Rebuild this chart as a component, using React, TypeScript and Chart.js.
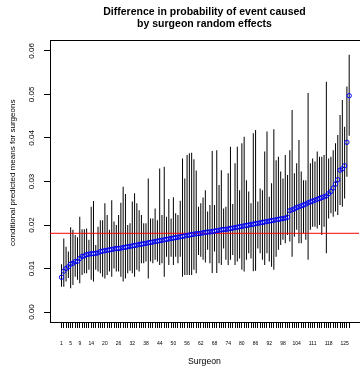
import React, { useEffect, useRef } from "react";
import { Chart, registerables } from "chart.js";

Chart.register(...registerables);

const FONT = "'Liberation Sans', Arial, Helvetica, sans-serif";

const titleLines = [
  "Difference in probability of event caused",
  "by surgeon random effects",
];
const xTitle = "Surgeon";
const yTitle = "conditional predicted means for surgeons";

// surgeon index (sorted by predicted mean)
const surgeons: number[] = [];
for (let s = 1; s <= 127; s++) surgeons.push(s);

const xTickLabels = [1, 5, 9, 14, 20, 26, 32, 38, 44, 50, 56, 62, 68, 74, 80, 86, 92, 98, 104, 111, 118, 125];
const yTickValues = [0, 0.01, 0.02, 0.03, 0.04, 0.05, 0.06];
const yTickLabels = ["0.00", "0.01", "0.02", "0.03", "0.04", "0.05", "0.06"];

const overallMean = 0.0181;

const means = [
  0.0080, 0.0094, 0.0100, 0.0104, 0.0110, 0.0112, 0.0116, 0.0117, 0.0123, 0.0128,
  0.0129, 0.0132, 0.0133, 0.0134, 0.0134, 0.0135, 0.0136, 0.0139, 0.0140, 0.0141,
  0.0142, 0.0143, 0.0144, 0.0145, 0.0146, 0.0146, 0.0147, 0.0148, 0.0149, 0.0150,
  0.0151, 0.0152, 0.0153, 0.0154, 0.0155, 0.0156, 0.0157, 0.0158, 0.0159, 0.0160,
  0.0161, 0.0162, 0.0163, 0.0164, 0.0165, 0.0166, 0.0167, 0.0168, 0.0169, 0.0170,
  0.0171, 0.0172, 0.0173, 0.0174, 0.0175, 0.0176, 0.0177, 0.0178, 0.0179, 0.0180,
  0.0180, 0.0181, 0.0182, 0.0183, 0.0184, 0.0184, 0.0185, 0.0186, 0.0187, 0.0188,
  0.0189, 0.0190, 0.0190, 0.0191, 0.0192, 0.0193, 0.0194, 0.0195, 0.0196, 0.0197,
  0.0198, 0.0199, 0.0200, 0.0201, 0.0202, 0.0203, 0.0204, 0.0205, 0.0206, 0.0207,
  0.0208, 0.0209, 0.0210, 0.0211, 0.0212, 0.0213, 0.0214, 0.0215, 0.0216, 0.0218,
  0.0233, 0.0235, 0.0237, 0.0240, 0.0242, 0.0244, 0.0246, 0.0248, 0.0251, 0.0253,
  0.0255, 0.0257, 0.0259, 0.0261, 0.0263, 0.0265, 0.0267,
  0.0272, 0.0277, 0.0285, 0.0294, 0.0304, 0.0326, 0.0329, 0.0336, 0.0390, 0.0497,
];

const lower = [
  0.0058, 0.0058, 0.0070, 0.0078, 0.0055, 0.0062, 0.0081, 0.0074, 0.0066, 0.0085,
  0.0089, 0.0089, 0.0097, 0.0074, 0.0070, 0.0097, 0.0093, 0.0089, 0.0081, 0.0077,
  0.0085, 0.0093, 0.0081, 0.0100, 0.0093, 0.0093, 0.0081, 0.0070, 0.0077, 0.0089,
  0.0095, 0.0089, 0.0081, 0.0097, 0.0093, 0.0112, 0.0112, 0.0116, 0.0077, 0.0116,
  0.0112, 0.0120, 0.0116, 0.0108, 0.0112, 0.0081, 0.0127, 0.0108, 0.0127, 0.0108,
  0.0127, 0.0112, 0.0127, 0.0081, 0.0085, 0.0085, 0.0085, 0.0085, 0.0097, 0.0089,
  0.0131, 0.0127, 0.0120, 0.0114, 0.0143, 0.0112, 0.0090, 0.0139, 0.0090, 0.0112,
  0.0108, 0.0146, 0.0120, 0.0108, 0.0120, 0.0131, 0.0108, 0.0116, 0.0123, 0.0097,
  0.0093, 0.0120, 0.0135, 0.0123, 0.0094, 0.0095, 0.0146, 0.0135, 0.0120, 0.0108,
  0.0135, 0.0116, 0.0104, 0.0097, 0.0127, 0.0143, 0.0154, 0.0166, 0.0158, 0.0177,
  0.0162, 0.0127, 0.0173, 0.0189, 0.0158, 0.0158, 0.0181, 0.0166, 0.0120, 0.0189,
  0.0196, 0.0196, 0.0192, 0.0200, 0.0177, 0.0196, 0.0135,
  0.0215, 0.0227, 0.0219, 0.0231, 0.0223, 0.0246, 0.0242, 0.0261, 0.0311, 0.0405,
];

const upper = [
  0.0110, 0.0169, 0.0150, 0.0139, 0.0195, 0.0189, 0.0177, 0.0172, 0.0219, 0.0190,
  0.0190, 0.0192, 0.0166, 0.0242, 0.0255, 0.0154, 0.0196, 0.0211, 0.0211, 0.0250,
  0.0223, 0.0189, 0.0257, 0.0208, 0.0200, 0.0223, 0.0251, 0.0288, 0.0271, 0.0200,
  0.0204, 0.0254, 0.0273, 0.0250, 0.0234, 0.0223, 0.0204, 0.0204, 0.0307, 0.0215,
  0.0215, 0.0238, 0.0211, 0.0330, 0.0223, 0.0334, 0.0219, 0.0260, 0.0215, 0.0264,
  0.0227, 0.0223, 0.0256, 0.0353, 0.0307, 0.0361, 0.0365, 0.0366, 0.0351, 0.0325,
  0.0242, 0.0250, 0.0263, 0.0280, 0.0231, 0.0246, 0.0370, 0.0246, 0.0372, 0.0292,
  0.0326, 0.0238, 0.0242, 0.0319, 0.0380, 0.0248, 0.0342, 0.0380, 0.0280, 0.0388,
  0.0403, 0.0303, 0.0277, 0.0250, 0.0411, 0.0418, 0.0254, 0.0284, 0.0280, 0.0369,
  0.0415, 0.0265, 0.0296, 0.0420, 0.0349, 0.0357, 0.0323, 0.0307, 0.0361, 0.0315,
  0.0372, 0.0464, 0.0319, 0.0342, 0.0395, 0.0323, 0.0303, 0.0303, 0.0503, 0.0342,
  0.0353, 0.0346, 0.0369, 0.0357, 0.0357, 0.0361, 0.0529,
  0.0353, 0.0357, 0.0372, 0.0388, 0.0407, 0.0453, 0.0487, 0.0426, 0.0518, 0.0591,
];

const X_MIN = -4.04;
const X_MAX = 131.3;
const Y_MIN = -0.0025;
const Y_MAX = 0.0625;

// rotated y tick labels and y axis title (R style, parallel to the axis)
const yAxisTextPlugin = {
  id: "yAxisTextRotated",
  afterDraw(chart: any) {
    const s = chart.scales.y;
    const ctx = chart.ctx;
    ctx.save();
    ctx.fillStyle = "#000";
    ctx.textAlign = "center";
    ctx.textBaseline = "middle";
    ctx.font = `8px ${FONT}`;
    yTickValues.forEach((v, i) => {
      const py = s.getPixelForValue(v);
      ctx.save();
      ctx.translate(s.right - 18.3, py);
      ctx.rotate(-Math.PI / 2);
      ctx.fillText(yTickLabels[i], 0, 0);
      ctx.restore();
    });
    ctx.font = `8px ${FONT}`;
    ctx.save();
    ctx.translate(s.right - 37.5, s.getPixelForValue(0.032));
    ctx.rotate(-Math.PI / 2);
    ctx.fillText(yTitle, 0, 0);
    ctx.restore();
    ctx.restore();
  },
};

export default function App() {
  const ref = useRef<HTMLCanvasElement | null>(null);

  useEffect(() => {
    if (!ref.current) return;
    const chart = new Chart(ref.current, {
      type: "bar",
      data: {
        datasets: [
          {
            type: "bar",
            data: surgeons.map((s, i) => ({ x: s, y: [lower[i], upper[i]] })) as any,
            backgroundColor: "#000",
            borderWidth: 0,
            barThickness: 1,
            inflateAmount: 0,
            order: 3,
          } as any,
          {
            type: "line",
            data: [
              { x: X_MIN, y: overallMean },
              { x: X_MAX, y: overallMean },
            ],
            borderColor: "#ff0000",
            borderWidth: 1,
            pointRadius: 0,
            order: 2,
          } as any,
          {
            type: "line",
            data: surgeons.map((s, i) => ({ x: s, y: means[i] })),
            showLine: false,
            pointStyle: "circle",
            pointRadius: 2.2,
            pointBorderWidth: 1,
            pointBorderColor: "#0000ff",
            pointBackgroundColor: "rgba(0,0,0,0)",
            order: 1,
          } as any,
        ],
      },
      options: {
        animation: false,
        responsive: false,
        events: [],
        layout: { padding: { left: 44, top: 0, right: 0, bottom: 0 } },
        plugins: {
          legend: { display: false },
          tooltip: { enabled: false },
          title: {
            display: true,
            text: titleLines,
            fullSize: false,
            color: "#000",
            font: { family: FONT, size: 10.5, weight: "bold", lineHeight: 1.2 },
            padding: { top: 5.7, bottom: 9.1 },
          },
        },
        scales: {
          x: {
            type: "linear",
            position: "bottom",
            min: X_MIN,
            max: X_MAX,
            offset: false,
            afterBuildTicks: (scale: any) => {
              scale.ticks = surgeons.map((v) => ({ value: v }));
            },
            ticks: {
              autoSkip: false,
              maxRotation: 0,
              minRotation: 0,
              padding: 12.5,
              color: "#000",
              font: { family: FONT, size: 5, lineHeight: 1.2 },
              callback: (value: any) => (xTickLabels.includes(Number(value)) ? String(value) : ""),
            },
            grid: {
              display: true,
              drawOnChartArea: false,
              drawTicks: true,
              tickLength: 5,
              color: "#000",
              lineWidth: 1,
              offset: false,
            },
            border: { display: true, color: "#000", width: 1 },
            title: {
              display: true,
              text: xTitle,
              color: "#000",
              font: { family: FONT, size: 8.7, lineHeight: 1.2 },
              padding: { top: -2.4, bottom: 0 },
            },
          },
          x2: {
            type: "linear",
            position: "top",
            min: X_MIN,
            max: X_MAX,
            ticks: { display: false },
            grid: { display: false, drawTicks: false, drawOnChartArea: false },
            border: { display: true, color: "#000", width: 1 },
          },
          y: {
            type: "linear",
            position: "left",
            min: Y_MIN,
            max: Y_MAX,
            afterBuildTicks: (scale: any) => {
              scale.ticks = yTickValues.map((v) => ({ value: v }));
            },
            ticks: { display: false },
            grid: {
              display: true,
              drawOnChartArea: false,
              drawTicks: true,
              tickLength: 6,
              color: "#000",
              lineWidth: 1,
            },
            border: { display: true, color: "#000", width: 1 },
            title: { display: false },
          },
        },
      } as any,
      plugins: [yAxisTextPlugin],
    });
    return () => chart.destroy();
  }, []);

  return (
    <div style={{ position: "fixed", left: 0, top: 0, width: 364, height: 367, background: "#fff" }}>
      <canvas ref={ref} width={364} height={367} style={{ display: "block", width: 364, height: 367 }} />
    </div>
  );
}
